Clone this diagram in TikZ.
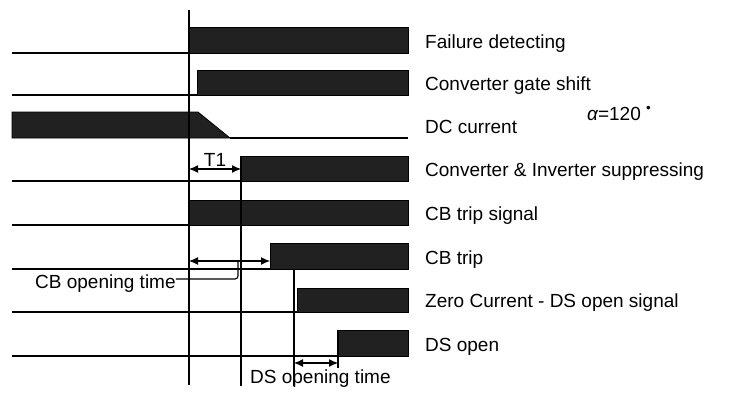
\documentclass[tikz,border=0pt]{standalone}
\usepackage{fontspec}
\setmainfont{Liberation Sans}
\usetikzlibrary{arrows.meta,positioning}

\begin{document}
\begin{tikzpicture}[x=1bp,y=-1bp,>={Latex[length=9bp,width=8bp]},
  font=\fontsize{19bp}{22bp}\selectfont,
  sig/.style={line width=1.6bp},
  bar/.style={fill=black!87,draw=black,line width=0.8bp},
  guide/.style={line width=1.1bp},
  tag/.style={inner sep=0pt}]
  \useasboundingbox (0,0) rectangle (731,392);

  \foreach \n/\ts/\yt/\yb in {fail/189/27/53,gate/197/70/95,supp/241/156/181,cbsig/189/200/225,
      cbtrip/270/243/269,zero/297/288/312,dsopen/338/330/356} {
    \draw[sig] (12,\yb) -- (\ts,\yb);
    \draw[bar] (\ts,\yt) rectangle (408,\yb);
    \coordinate (\n) at (408,\yb-5);
  }
  \draw[bar] (12,112) -- (198,112) -- (230,138) -- (12,138) -- cycle;
  \draw[sig] (230,138) -- (408,138);
  \coordinate (dc) at (408,133);

  \node[tag,base right=17bp of fail] (failtxt) {Failure detecting};
  \node[tag,base right=17bp of gate] (gatetxt) {Converter gate shift};
  \node[tag,base right=17bp of dc] (dctxt) {DC current};
  \node[tag,anchor=base west] (alpha) at (587,120) {{\itshape α}=120 \textsuperscript{•}};
  \node[tag,base right=17bp of supp] (supptxt) {Converter \& Inverter suppressing};
  \node[tag,base right=17bp of cbsig] (cbsigtxt) {CB trip signal};
  \node[tag,base right=17bp of cbtrip] (cbtriptxt) {CB trip};
  \node[tag,base right=17bp of zero] (zerotxt) {Zero Current - DS open signal};
  \node[tag,base right=17bp of dsopen] (dsopentxt) {DS open};

  \coordinate (v0a) at (189,10);   \coordinate (v0b) at (189,385);
  \coordinate (v1a) at (241,156);  \coordinate (v1b) at (241,386);
  \coordinate (v2a) at (294,269);  \coordinate (v2b) at (294,386);
  \coordinate (v3a) at (338,330);  \coordinate (v3b) at (338,368);
  \foreach \u/\v in {v0a/v0b,v1a/v1b,v2a/v2b,v3a/v3b}
    \draw[guide] (\u) -- (\v);

  \coordinate (t1a) at (189,169);  \coordinate (t1b) at (241,169);
  \coordinate (cba) at (189,261);  \coordinate (cbb) at (270,261);
  \coordinate (dsa) at (294,363);  \coordinate (dsb) at (338,363);
  \foreach \u/\v in {t1a/t1b,cba/cbb,dsa/dsb}
    \draw[guide,<->] (\u) -- (\v);

  \node[tag,anchor=base] (t1txt) at (215,166) {T1};
  \node[tag,anchor=base west] (cbtxt) at (35,288) {CB opening time};
  \coordinate (cbknee) at (238,279);
  \coordinate (cbmid) at (238,261);
  \draw[guide,rounded corners=3bp] (cbtxt.east |- cbknee) -- (cbknee) -- (cbmid);
  \node[tag,anchor=base west] (dstxt) at (250,383) {DS opening time};
\end{tikzpicture}
\end{document}
